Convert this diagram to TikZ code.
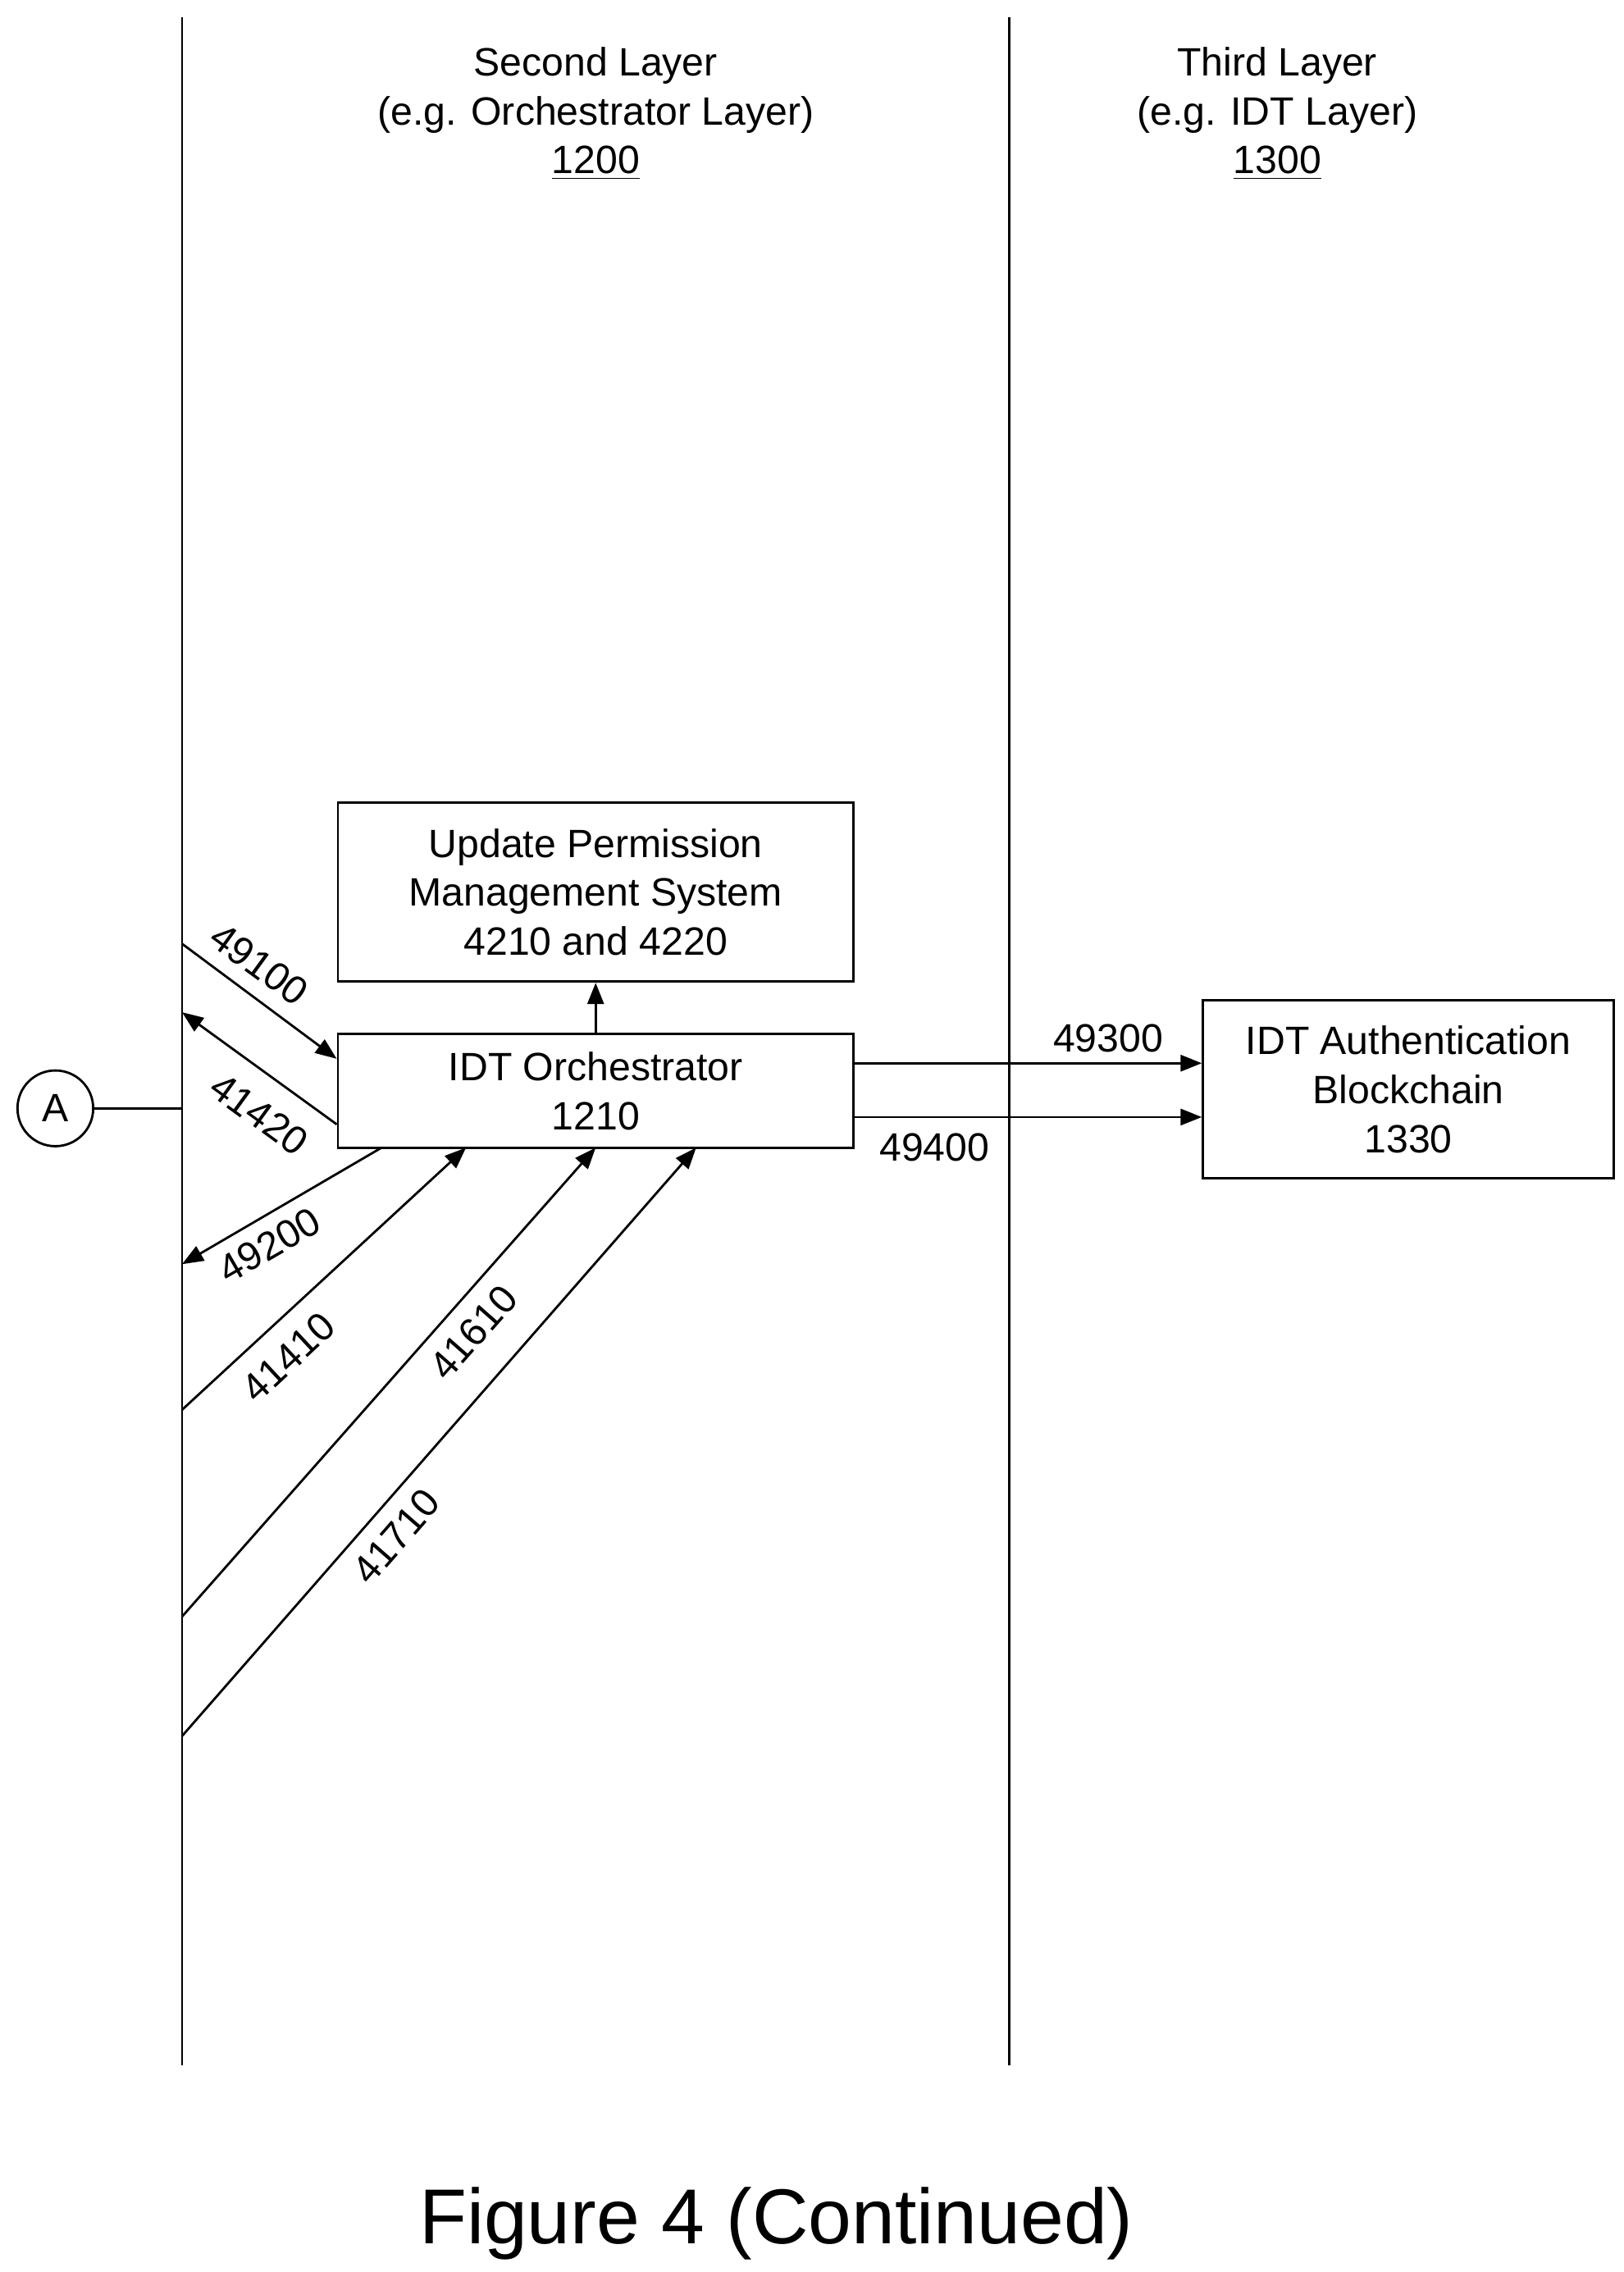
\documentclass[tikz,border=0pt]{standalone}
\usepackage{fontspec}
\setmainfont{Liberation Sans}
\usetikzlibrary{arrows.meta,positioning}

\begin{document}
\begin{tikzpicture}[
    x=0.01775cm,y=-0.01775cm,>={Triangle[length=2.6mm,width=2mm]},
    box/.style={rectangle,draw,thick,align=center,font=\fontsize{13.7}{17}\selectfont},
    lane/.style={thick},
    lab/.style={font=\fontsize{13.7}{17}\selectfont},
    every path/.style={thick}
]
 \useasboundingbox (0,0) rectangle (1115,1560);

 % lanes
 \draw[lane] (125,12) -- (125,1418);
 \draw[lane] (693,12) -- (693,1418);
 \node[lab,align=center] (l2) at (409,78) {Second Layer\\(e.g. Orchestrator Layer)\\\underline{1200}};
 \node[lab,align=center] (l3) at (877,78) {Third Layer\\(e.g. IDT Layer)\\\underline{1300}};

 % boxes
 \node[box,minimum width=354*0.01775cm,minimum height=123*0.01775cm] (ups) at (409,612.5)
    {Update Permission\\Management System\\4210 and 4220};
 \node[box,minimum width=354*0.01775cm,minimum height=78*0.01775cm] (orch) at (409,749)
    {IDT Orchestrator\\1210};
 \node[box,minimum width=282*0.01775cm,minimum height=122*0.01775cm] (auth) at (967,748)
    {IDT Authentication\\Blockchain\\1330};
 \node[circle,draw,thick,minimum size=52*0.01775cm,lab] (a) at (38,761) {A};

 % free ends on the left lane
 \coordinate (a0) at (125,761);
 \coordinate (s1) at (125,648);
 \coordinate (s2) at (125,695);
 \coordinate (s3) at (125,868);
 \coordinate (s4) at (125,968);
 \coordinate (s5) at (125,1110);
 \coordinate (s6) at (125,1192);

 \draw (a) -- (a0);
 \draw[->] (orch) -- (ups);
 \draw[->] (s1) -- (orch.west |- 0,727);
 \draw[->] (orch.west |- 0,772) -- (s2);
 \draw[->] (262,788) -- (s3);
 \draw[->] (s4) -- (320,788);
 \draw[->] (s5) -- (409,788);
 \draw[->] (s6) -- (478,788);

 % flow labels
 \node[lab,rotate=-36] (f49100) at (178,662) {49100};
 \node[lab,rotate=-36] (f41420) at (178,765) {41420};
 \node[lab,rotate=30] (f49200) at (185,855) {49200};
 \node[lab,rotate=43] (f41410) at (198,932) {41410};
 \node[lab,rotate=48.6] (f41610) at (325,915) {41610};
 \node[lab,rotate=48.9] (f41710) at (272,1055) {41710};

 \draw[->] (orch.east |- 0,730) -- (auth.west |- 0,730) node[lab,pos=0.73,above] {49300};
 \draw[->] (orch.east |- 0,767) -- (auth.west |- 0,767) node[lab,pos=0.23,below=2pt] {49400};

 \node[font=\fontsize{27}{32}\selectfont] (cap) at (533,1527) {Figure 4 (Continued)};
\end{tikzpicture}
\end{document}
